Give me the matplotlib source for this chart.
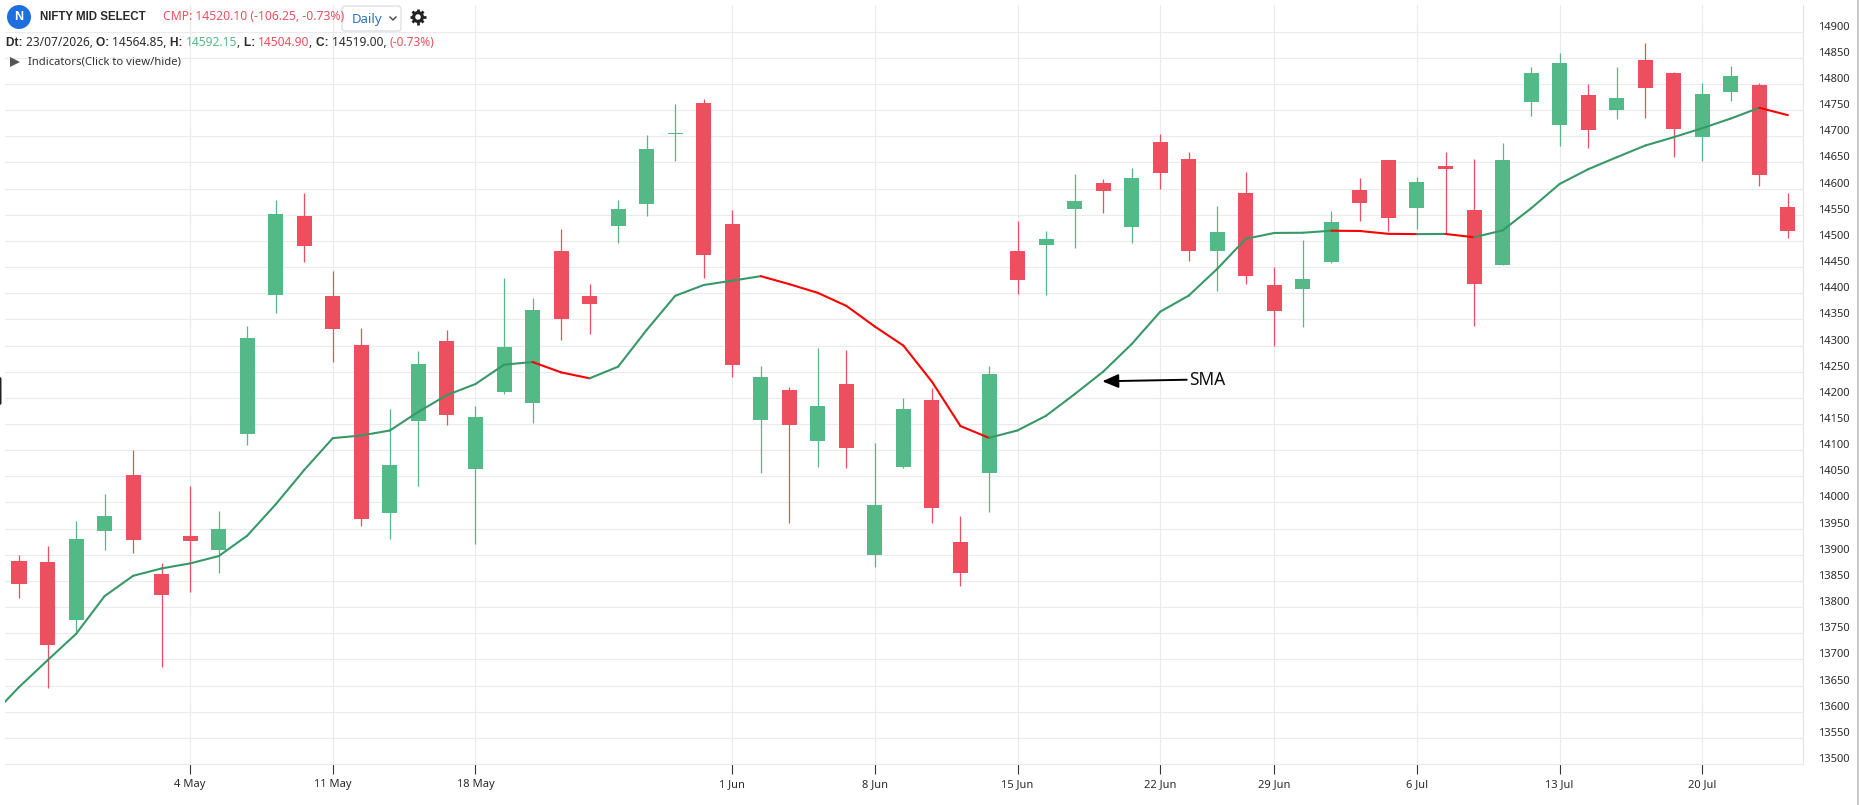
import numpy as np
import matplotlib
matplotlib.use('Agg')
import matplotlib.pyplot as plt
from matplotlib.patches import Circle, FancyBboxPatch, Polygon, Rectangle
from matplotlib.lines import Line2D
from matplotlib.transforms import ScaledTranslation

plt.rcParams['font.family'] = ['Noto Sans', 'DejaVu Sans']

# candles, oldest first
opens = [13888, 13886, 13775.5, 13946, 14052.7, 13863, 13935.8, 13909.6, 14130, 14396.2,
         14547, 14395.6, 14301.7, 13980.5, 14154.9, 14309.4, 14064.8, 14210.4, 14189.4, 14479.9,
         14395.6, 14528.4, 14570.6, 14705, 14763.4, 14531.6, 14156.8, 14215.5, 14118.4, 14227,
         13900, 14068.6, 14196.3, 13924, 14056.8, 14479.9, 14492, 14561, 14610.1, 14526.5,
         14688.7, 14656.1, 14480.5, 14591, 14415.7, 14408.6, 14460, 14596.8, 14654.2, 14562.9,
         14642.7, 14558.4, 14453.7, 14766, 14721.9, 14778.8, 14750, 14845.8, 14820.9, 14698.9,
         14785.2, 14797.9, 14564.85]
highs = [13899.4, 13916.7, 13964.6, 14016.3, 14100.6, 13884, 14031.6, 13983.7, 14338, 14577.6,
         14591, 14441.6, 14334.3, 14179, 14290.2, 14330.4, 14184.9, 14428.2, 14391.8, 14522,
         14416.7, 14577.6, 14702, 14761.5, 14771, 14558.4, 14261.5, 14221.2, 14296, 14292.1,
         14114, 14200.2, 14219.3, 13974, 14260.8, 14537.3, 14518.2, 14627.4, 14617.8, 14638.9,
         14704, 14669.5, 14566, 14631.2, 14449.4, 14501, 14556.5, 14619.7, 14654.2, 14621.7,
         14669.6, 14656.1, 14686.8, 14832.4, 14859.2, 14799.8, 14832.4, 14878.4, 14822.8, 14801.7,
         14834.3, 14801.7, 14592.15]
lows = [13817.7, 13645, 13753.8, 13909.6, 13904, 13686, 13829.2, 13865.6, 14108.9, 14361.7,
        14459.5, 14267.9, 13955.6, 13930.7, 14032.3, 14147.2, 13921.1, 14208, 14151, 14310,
        14321.5, 14495.8, 14547.6, 14653, 14428.8, 14239, 14057, 13961, 14068.6, 14066.7,
        13877, 14066, 13961, 13841, 13982, 14398.1, 14396.2, 14486.2, 14553.3, 14495.8,
        14599.3, 14461.3, 14403.9, 14417.3, 14299, 14336, 14458, 14538, 14518, 14522,
        14512.5, 14338, 14453, 14738.5, 14681, 14677.2, 14732.8, 14734.7, 14660, 14652.3,
        14767.3, 14604.4, 14504.9]
closes = [13844.5, 13727.6, 13930, 13974, 13928.8, 13823.4, 13926.9, 13949.2, 14313.9, 14550.8,
          14490, 14331, 13969, 14071.9, 14265.3, 14166.4, 14163.8, 14297.9, 14368.8, 14350.2,
          14379, 14560.3, 14675.3, 14706, 14472.9, 14262, 14240.4, 14147.2, 14184.8, 14105,
          13995, 14179.1, 13990, 13866, 14245.5, 14425, 14502.8, 14575.6, 14595.4, 14619.7,
          14629.9, 14480.5, 14516.2, 14432.6, 14366.6, 14427, 14535.4, 14572.5, 14543.8, 14612,
          14637, 14418, 14654.2, 14820.9, 14840, 14712.3, 14773, 14792.2, 14714.3, 14780.7,
          14815.2, 14626.1, 14519]

# SMA starts one candle earlier than the first visible body
sma = [13590, 13647, 13698.3, 13748.7, 13820.9, 13859.8, 13873.9, 13883.5, 13897.5, 13936.5,
       13996.5, 14062.3, 14123, 14128, 14137.6, 14173.4, 14205.3, 14226.4, 14263.4, 14268.5,
       14248.7, 14237.3, 14259.6, 14329.8, 14395, 14415.7, 14424, 14432.6, 14417.3, 14400.7,
       14375.8, 14336.2, 14299.8, 14230.8, 14146, 14123.5, 14137.7, 14165.8, 14207, 14250,
       14302.8, 14364.6, 14395.5, 14446.6, 14504, 14515.2, 14515.6, 14519.5, 14519, 14513.5,
       14513, 14513.3, 14507, 14520, 14562.3, 14608.9, 14637, 14660, 14682.3, 14698.3,
       14715.5, 14734, 14754.5, 14740.4]

tick_idx = [6, 11, 16, 25, 30, 35, 40, 44, 49, 54, 59]
tick_labels = ['4 May', '11 May', '18 May', '1 Jun', '8 Jun', '15 Jun', '22 Jun', '29 Jun', '6 Jul', '13 Jul', '20 Jul']
y_ticks = list(range(13500, 14901, 50))

W, H = 1859, 805
GREEN = '#53b987'
RED = '#ee4f5f'
TXT = '#2b2b2b'

fig = plt.figure(figsize=(W / 100, H / 100), dpi=100)
ax = fig.add_axes([5 / W, 1 - 764 / H, (1803 - 5) / W, (764 - 5) / H])

for i in range(len(opens)):
    col = GREEN if closes[i] >= opens[i] else RED
    ax.vlines(i, lows[i], highs[i], color=col, lw=0.9, zorder=3)
    bottom = min(opens[i], closes[i])
    height = max(abs(closes[i] - opens[i]), 1.2)
    ax.bar(i, height, bottom=bottom, width=0.526, color=col, lw=0, zorder=3)

# line is green while rising, red while falling
for k in range(1, len(sma)):
    col = '#389868' if sma[k] >= sma[k - 1] else '#ff0000'
    ax.plot([k - 2, k - 1], [sma[k - 1], sma[k]], color=col, lw=1.5, zorder=4,
            solid_capstyle='round')

ax.annotate('', xy=(37.97, 14231.6), xytext=(40.93, 14234.6),
            arrowprops=dict(arrowstyle='-|>,head_length=0.75,head_width=0.32', color='black',
                            lw=1.4, shrinkA=0, shrinkB=0, mutation_scale=13), zorder=5)
ax.text(41.65, 14235, 'SMA', fontsize=12.5, color='#111111', ha='center', va='center', zorder=5)

ax.set_xlim((5 - 19) / 28.53, (1803 - 19) / 28.53)
ax.set_ylim(13500, 14951)
ax.set_xticks(tick_idx)
ax.set_xticklabels(tick_labels)
ax.set_yticks(y_ticks)
ax.yaxis.tick_right()
ax.grid(True, color='#ebebeb', lw=0.85, zorder=0)
ax.set_axisbelow(True)
ax.tick_params(axis='x', length=7.2, width=0.8, color='#333333', labelsize=8, labelcolor=TXT, pad=3.5)
ax.tick_params(axis='y', length=0, labelsize=8, labelcolor=TXT, pad=10.5)
up = ScaledTranslation(0, 0.06, fig.dpi_scale_trans)
for lab in ax.get_yticklabels():
    lab.set_transform(lab.get_transform() + up)
for side in ['top', 'left']:
    ax.spines[side].set_visible(False)
ax.spines['bottom'].set_color('#ebebeb')
ax.spines['right'].set_color('#e4e4e4')
ax.spines['bottom'].set_linewidth(0.85)
ax.spines['right'].set_linewidth(0.85)


# page furniture, placed in pixels of the screenshot
def fx(x):
    return x / W


def fy(y):
    return 1 - y / H


def row(x, y, pieces, size=8):
    rend = fig.canvas.get_renderer()
    for s, col, weight in pieces:
        fam = 'Liberation Sans' if weight == 'bold' else 'Noto Sans'
        t = fig.text(fx(x), fy(y), s, color=col, fontsize=size, fontweight=weight, family=fam,
                     va='center', ha='left')
        x = x + t.get_window_extent(rend).width


overlay = fig.add_axes([0, 0, 1, 1], facecolor='none')
overlay.set_xlim(0, W)
overlay.set_ylim(H, 0)
overlay.axis('off')
overlay.add_patch(Circle((19, 17), 12, color='#1c6fdc', lw=0))
overlay.text(19, 17, 'N', color='white', fontsize=9, fontweight='bold', family='Liberation Sans',
             ha='center', va='center')
overlay.add_patch(FancyBboxPatch((342, 6), 59, 25, boxstyle='round,pad=0,rounding_size=3',
                                 fc='white', ec='#d9dde3', lw=0.9))
overlay.add_line(Line2D([390, 393, 396], [17, 20, 17], color='#444444', lw=1))
overlay.text(352, 20, 'Daily', color='#2f6fc4', fontsize=9.5, va='center', ha='left')

# gear icon: ring plus short teeth
overlay.add_patch(Circle((418, 17), 4.4, fc='none', ec='#222222', lw=2.3))
for a in np.arange(0, 2 * np.pi, np.pi / 4):
    overlay.add_line(Line2D([418 + 5 * np.cos(a), 418 + 7.8 * np.cos(a)],
                            [17 + 5 * np.sin(a), 17 + 7.8 * np.sin(a)],
                            color='#222222', lw=2, solid_capstyle='butt'))

overlay.add_patch(Polygon([[10, 57], [10, 67], [20, 62]], color='#555555', lw=0))
overlay.add_patch(FancyBboxPatch((-3, 377), 4.5, 28, boxstyle='round,pad=0,rounding_size=2',
                                 fc='#222222', ec='none'))
overlay.add_patch(Rectangle((1857, 0), 2, H, color='#c8c8c8', lw=0))

fig.text(fx(40), fy(16.5), 'NIFTY MID SELECT', color='#2a2a2a', fontsize=8.3, fontweight='bold',
         family='Liberation Sans', va='center')
fig.text(fx(163), fy(16.5), 'CMP: 14520.10 (-106.25, -0.73%)', color='#ee4f5f', fontsize=8.75, va='center')
row(6, 43, [('Dt: ', TXT, 'bold'), ('23/07/2026, ', TXT, 'normal'),
            ('O: ', TXT, 'bold'), ('14564.85, ', TXT, 'normal'),
            ('H: ', TXT, 'bold'), ('14592.15', GREEN, 'normal'), (', ', TXT, 'normal'),
            ('L: ', TXT, 'bold'), ('14504.90', RED, 'normal'), (', ', TXT, 'normal'),
            ('C: ', TXT, 'bold'), ('14519.00, ', TXT, 'normal'),
            ('(-0.73%)', RED, 'normal')], size=8.6)
fig.text(fx(28), fy(62.5), 'Indicators(Click to view/hide)', color='#333333', fontsize=8.1, va='center')

fig.savefig('out.png', dpi=100, facecolor='white')
